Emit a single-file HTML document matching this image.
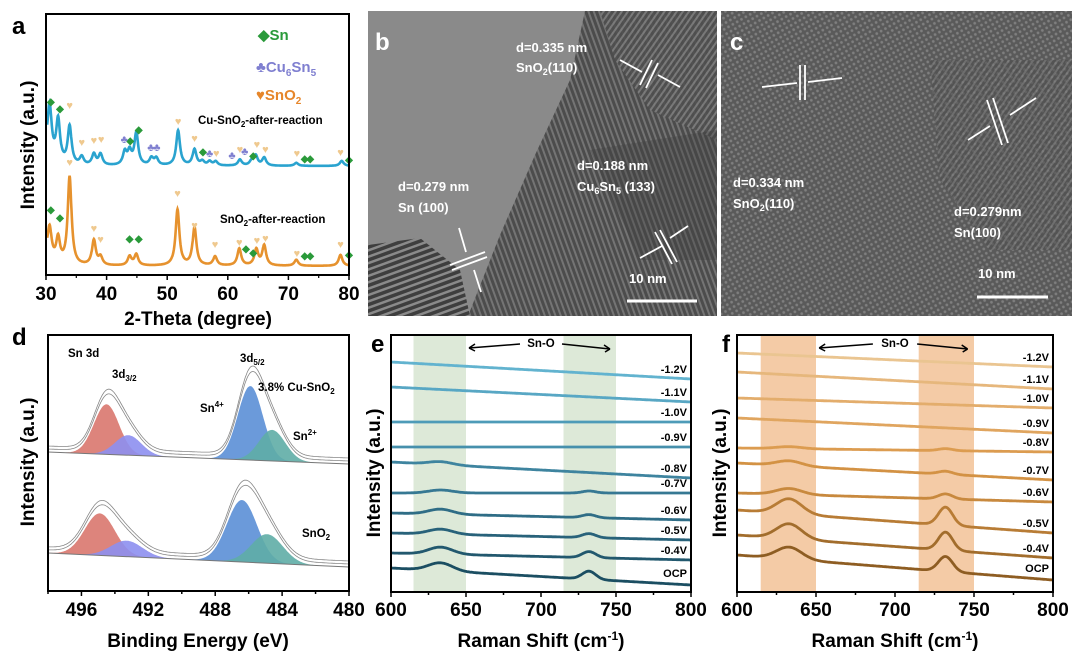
<!DOCTYPE html>
<html><head><meta charset="utf-8"><style>
html,body{margin:0;padding:0;background:#fff;}
svg{display:block;font-family:"Liberation Sans",Arial,sans-serif;font-weight:bold;}
</style></head><body>
<svg id="fig" width="1080" height="657" viewBox="0 0 1080 657">
<defs>
<pattern id="fringeA" width="6" height="6" patternUnits="userSpaceOnUse" patternTransform="rotate(-20)"><rect width="6" height="6" fill="#3e3e3e"/><rect width="6" height="2.5" fill="#8a8a8a"/></pattern>
<pattern id="fringeB" width="5" height="5" patternUnits="userSpaceOnUse" patternTransform="rotate(70)"><rect width="5" height="5" fill="#4c4c4c"/><rect width="5" height="2" fill="#747474"/></pattern>
<pattern id="fringeC" width="5" height="5" patternUnits="userSpaceOnUse" patternTransform="rotate(60)"><rect width="5" height="5" fill="#555"/><circle cx="2.5" cy="2.5" r="1.4" fill="#8a8a8a"/></pattern>
<pattern id="fringeD" width="5" height="5" patternUnits="userSpaceOnUse" patternTransform="rotate(-55)"><rect width="5" height="5" fill="#4e4e4e"/><rect width="5" height="2" fill="#7c7c7c"/></pattern>
</defs>

<!-- TEM b -->
<g>
<rect x="368" y="11" width="349" height="305" fill="#8a8a8a"/>
<polygon points="585,11 717,11 717,316 468,316 500,235 535,155 570,80" fill="url(#fringeB)"/>
<polygon points="600,11 717,11 717,140 650,110 615,60" fill="url(#fringeD)" opacity="0.9"/>
<polygon points="590,150 717,130 717,260 640,260" fill="#404040" opacity="0.35"/>
<polygon points="368,245 420,238 460,270 470,316 368,316" fill="url(#fringeA)"/>
<text x="375" y="50" font-size="24" fill="#fff">b</text>
<text x="516" y="52" font-size="13" fill="#fff">d=0.335 nm</text>
<text x="516" y="72" font-size="13" fill="#fff">SnO<tspan font-size="9" dy="3">2</tspan><tspan dy="-3">(110)</tspan></text>
<text x="398" y="191" font-size="13" fill="#fff">d=0.279 nm</text>
<text x="398" y="212" font-size="13" fill="#fff">Sn (100)</text>
<text x="577" y="170" font-size="13" fill="#fff">d=0.188 nm</text>
<text x="577" y="191" font-size="13" fill="#fff">Cu<tspan font-size="9" dy="3">6</tspan><tspan dy="-3">Sn</tspan><tspan font-size="9" dy="3">5</tspan><tspan dy="-3"> (133)</tspan></text>
<g stroke="#fff" stroke-width="1.8" fill="none">
<line x1="640" y1="85" x2="652" y2="60"/><line x1="646" y1="88" x2="658" y2="63"/>
<line x1="620" y1="60" x2="642" y2="72"/><line x1="680" y1="87" x2="658" y2="75"/>
<line x1="450" y1="265" x2="485" y2="252"/><line x1="452" y1="270" x2="487" y2="257"/>
<line x1="459" y1="228" x2="466" y2="252"/><line x1="481" y1="292" x2="474" y2="270"/>
<line x1="655" y1="232" x2="672" y2="264"/><line x1="660" y1="230" x2="677" y2="262"/>
<line x1="640" y1="258" x2="662" y2="246"/><line x1="688" y1="226" x2="670" y2="238"/>
<line x1="627" y1="301" x2="697" y2="301" stroke-width="3"/>
</g>
<text x="629" y="283" font-size="13" fill="#fff">10 nm</text>
</g>

<!-- TEM c -->
<g>
<rect x="721" y="11" width="351" height="305" fill="url(#fringeC)"/>
<rect x="721" y="11" width="351" height="305" fill="#666" opacity="0.3"/>
<polygon points="930,60 1072,60 1072,250 990,250 940,180" fill="url(#fringeD)" opacity="0.6"/>
<text x="730" y="50" font-size="24" fill="#fff">c</text>
<text x="733" y="187" font-size="13" fill="#fff">d=0.334 nm</text>
<text x="733" y="208" font-size="13" fill="#fff">SnO<tspan font-size="9" dy="3">2</tspan><tspan dy="-3">(110)</tspan></text>
<text x="954" y="216" font-size="13" fill="#fff">d=0.279nm</text>
<text x="954" y="237" font-size="13" fill="#fff">Sn(100)</text>
<g stroke="#fff" stroke-width="1.8" fill="none">
<line x1="800" y1="65" x2="800" y2="100"/><line x1="805" y1="65" x2="805" y2="100"/>
<line x1="762" y1="87" x2="797" y2="83"/><line x1="842" y1="78" x2="808" y2="82"/>
<line x1="987" y1="100" x2="1002" y2="145"/><line x1="993" y1="98" x2="1008" y2="143"/>
<line x1="968" y1="140" x2="990" y2="126"/><line x1="1036" y1="98" x2="1010" y2="115"/>
<line x1="977" y1="297" x2="1048" y2="297" stroke-width="3"/>
</g>
<text x="978" y="278" font-size="13" fill="#fff">10 nm</text>
</g>

<g id="charts"></g>
</svg>
<script>
// ---------- Panel a (XRD) data ----------
const xrdCuPeaks = [30.6,32.0,33.9,35.9,37.9,39.0,43.0,43.8,44.9,47.4,48.2,51.8,54.5,55.8,57.0,58.0,62.0,63.9,64.6,66.0,71.3,78.8];
const xrdCuHeights = [50,42,38,8,11,11,13,13,32,7,7,35,16,4,4,4,6,4,10,8,3,5];
const xrdSnPeaks = [30.6,32.0,33.9,37.9,39.0,43.8,44.9,51.7,54.5,57.9,61.9,64.7,66.0,71.3,78.6];
const xrdSnHeights = [30,24,88,25,8,9,11,56,38,9,17,16,20,6,11];
const markSn = [[30.8,105],[32.3,112],[43.9,144],[45.3,133],[55.9,155],[64.2,159],[72.7,162],[73.6,162],[80,163],[30.8,213],[32.3,221],[43.8,242],[45.3,242],[63.0,252],[64.2,256],[72.7,259],[73.6,259],[80,258]];
const markCu = [[42.9,143],[47.3,151],[48.3,151],[57.0,157],[60.7,159],[62.8,155]];
const markO = [[33.9,109],[35.9,146],[37.9,144],[39.1,143],[51.8,125],[54.5,142],[58.1,157],[62.0,153],[64.8,148],[66.2,153],[71.4,157],[78.6,156],[33.9,166],[37.9,232],[39.0,243],[51.7,197],[54.5,229],[57.9,248],[61.9,246],[64.8,244],[66.2,242],[71.4,257],[78.6,248]];
const xTicksA = [30,40,50,60,70,80];

// ---------- Panel d (XPS) data ----------
const xpsTicks = [496,492,488,484,480];
const xpsCuCenters = [494.5,493.2,485.9,484.6];
const xpsCuHeights = [50,20,74,31];
const xpsSnCenters = [494.9,493.3,486.4,484.9];
const xpsSnHeights = [42,16,62,29];
const xpsColors = ["#d9776e","#8d8ff0","#5b8fd6","#5fada6"];

// ---------- Panels e/f (Raman) data ----------
const ramanTicks = [600,650,700,750,800];
const ramanLabels = ["-1.2V","-1.1V","-1.0V","-0.9V","-0.8V","-0.7V","-0.6V","-0.5V","-0.4V","OCP"];
const eStart = [362,387,422,447,462,493,513,533,553,568];
const eEnd = [379,402,422,447,478,493,520,540,560,585];
const ePeak633 = [0,0,0,0,3,3,5,5,7,8];
const ePeak732 = [0,0,0,0,0,2,3,4,6,8];
const eColors = ["#62b3cf","#58a7c4","#4e9bb8","#4690ac","#3e849f","#367893","#2f6d86","#28627a","#22586e","#1b4e62"];
const fStart = [353,372,398,418,448,463,493,510,535,555];
const fEnd = [367,389,408,433,452,480,502,533,558,580];
const fPeak633 = [0,0,0,0,2,5,6,15,15,12];
const fPeak732 = [0,0,0,0,2,3,5,18,18,15];
const fColors = ["#eac591","#e6b77c","#e3ad6c","#e0a55f","#dc9c50","#d39244","#c8893e","#b87c35","#a26d2c","#8e5d22"];

const NS="http://www.w3.org/2000/svg";
const root=document.getElementById('charts');
function mk(tag,attrs,parent,txt){const e=document.createElementNS(NS,tag);for(const k in attrs)e.setAttribute(k,attrs[k]);if(txt!==undefined)e.textContent=txt;(parent||root).appendChild(e);return e;}
function lor(x,c,w){return 1/(1+((x-c)/w)**2);}
function gau(x,c,s){return Math.exp(-0.5*((x-c)/s)**2);}

// ===== Panel a =====
(function(){
const x0=46,x1=349,y0=14,y1=275;
const sx=v=>x0+(v-30)/(50)*(x1-x0);
const g=mk('g',{});


function curve(peaks,hts,base,start,color,name){
 let d='';
 for(let v=30.2;v<=80;v+=0.05){
  let y=base-start*Math.exp(-(v-30)/1.2);
  for(let i=0;i<peaks.length;i++)y-=hts[i]*lor(v,peaks[i],0.38);
  d+=(d?'L':'M')+sx(v).toFixed(1)+','+y.toFixed(1);
 }
 const p=mk('path',{d:d,fill:'none',stroke:color,'stroke-width':2.6},g);
 
 
}
curve(xrdCuPeaks,xrdCuHeights,166,18,'#2aa3cf','xrd-cu-sno2-curve');
curve(xrdSnPeaks,xrdSnHeights,266,14,'#e6922e','xrd-sno2-curve');
markSn.forEach(m=>{const t=mk('text',{x:sx(m[0]),y:m[1],'font-size':10,fill:'#2a9a3a','text-anchor':'middle'},g,'◆');});
markCu.forEach(m=>{const t=mk('text',{x:sx(m[0]),y:m[1],'font-size':11,fill:'#8080d0','text-anchor':'middle'},g,'♣');});
markO.forEach(m=>{const t=mk('text',{x:sx(m[0]),y:m[1],'font-size':11,fill:'#efc98f','text-anchor':'middle'},g,'♥');});
const box=mk('rect',{x:x0,y:y0,width:x1-x0,height:y1-y0,fill:'none',stroke:'#000','stroke-width':2},g);

xTicksA.forEach(v=>{mk('line',{x1:sx(v),x2:sx(v),y1:y1,y2:y1+5,stroke:'#000','stroke-width':1.5},g);
 if(v<80)mk('line',{x1:sx(v+5),x2:sx(v+5),y1:y1,y2:y1+3,stroke:'#000','stroke-width':1.2},g);
 const t=mk('text',{x:sx(v),y:300,'font-size':19,'text-anchor':'middle'},g,String(v));});
let t=mk('text',{x:198,y:325,'font-size':19,'text-anchor':'middle'},g,'2-Theta (degree)');
t=mk('text',{x:0,y:0,'font-size':19,'text-anchor':'middle',transform:'translate(34,145) rotate(-90)'},g,'Intensity (a.u.)');
t=mk('text',{x:12,y:34,'font-size':24},g,'a');
const lg=mk('g',{},g);
let l=mk('text',{x:258,y:40,'font-size':15,fill:'#2a9a3a'},lg,'◆Sn');
l=mk('text',{x:256,y:72,'font-size':15,fill:'#7f7fd0'},lg);l.innerHTML='♣Cu<tspan font-size="10" dy="4">6</tspan><tspan dy="-4">Sn</tspan><tspan font-size="10" dy="4">5</tspan>';
l=mk('text',{x:256,y:100,'font-size':15,fill:'#e6862a'},lg);l.innerHTML='♥SnO<tspan font-size="10" dy="4">2</tspan>';
t=mk('text',{x:198,y:124,'font-size':11.5},g);t.innerHTML='Cu-SnO<tspan font-size="8" dy="3">2</tspan><tspan dy="-3">-after-reaction</tspan>';
t=mk('text',{x:220,y:223,'font-size':11.5},g);t.innerHTML='SnO<tspan font-size="8" dy="3">2</tspan><tspan dy="-3">-after-reaction</tspan>';
})();

// ===== Panel d =====
(function(){
const x0=48,x1=349,y0=335,y1=591;
const sx=v=>x0+(498-v)/18*(x1-x0);
const g=mk('g',{});


function stack(cs,hs,bl,br,sig,name){
 const base=v=>bl+(br-bl)*(498-v)/18;
 const envPts=[];
 for(let v=498;v>=480;v-=0.05){let y=base(v);cs.forEach((c,i)=>{y-=hs[i]*gau(v,c,sig*(i%2?1.05:1));});envPts.push([sx(v),y]);}
 cs.forEach((c,i)=>{
  const pts=[];
  for(let v=Math.min(498,c+4);v>=Math.max(480,c-4);v-=0.05)pts.push([sx(v),base(v)-hs[i]*gau(v,c,sig*(i%2?1.05:1))]);
  let d='M'+pts.map(p=>p[0].toFixed(1)+','+p[1].toFixed(1)).join('L');
  const b2=pts.slice().reverse().map(p=>p[0].toFixed(1)+','+base(498-(p[0]-x0)/(x1-x0)*18).toFixed(1));
  d+='L'+b2.join('L')+'Z';
  const p=mk('path',{d:d,fill:xpsColors[i],opacity:0.9},g);
  
 });
 [-3,-6].forEach(off=>{
  const d='M'+envPts.map(p=>p[0].toFixed(1)+','+(p[1]+off*(1+0.2*Math.max(0,(base(498-(p[0]-x0)/(x1-x0)*18)-p[1])/20))).toFixed(1)).join('L');
  const p=mk('path',{d:d,fill:'none',stroke:'#888','stroke-width':0.8},g);
  
 });
 mk('line',{x1:x0,y1:bl,x2:x1,y2:br,stroke:'#777','stroke-width':1},g);
}
stack(xpsCuCenters,xpsCuHeights,452,464,0.75,'xps-cu-sno2');
stack(xpsSnCenters,xpsSnHeights,553,567,0.9,'xps-sno2');
const box=mk('rect',{x:x0,y:y0,width:x1-x0,height:y1-y0,fill:'none',stroke:'#000','stroke-width':2},g);

for(let v=498;v>=480;v-=2){mk('line',{x1:sx(v),x2:sx(v),y1:y1,y2:y1+(v%4===0?5:3),stroke:'#000','stroke-width':1.5},g);}
xpsTicks.forEach(v=>{const t=mk('text',{x:sx(v),y:616,'font-size':19,'text-anchor':'middle'},g,String(v));});
let t=mk('text',{x:198,y:647,'font-size':19,'text-anchor':'middle'},g,'Binding Energy (eV)');
t=mk('text',{x:0,y:0,'font-size':19,'text-anchor':'middle',transform:'translate(34,462) rotate(-90)'},g,'Intensity (a.u.)');
t=mk('text',{x:12,y:345,'font-size':24},g,'d');
const ann=[[68,357,'Sn 3d'],[112,378,'3d<tspan font-size="8" dy="3">3/2</tspan>'],[240,362,'3d<tspan font-size="8" dy="3">5/2</tspan>'],[258,391,'3.8% Cu-SnO<tspan font-size="8" dy="3">2</tspan>'],[200,412,'Sn<tspan font-size="8" dy="-5">4+</tspan>'],[293,440,'Sn<tspan font-size="8" dy="-5">2+</tspan>'],[302,537,'SnO<tspan font-size="8" dy="3">2</tspan>']];
ann.forEach(a=>{const e=mk('text',{x:a[0],y:a[1],'font-size':11.5},g);e.innerHTML=a[2];});
})();

// ===== Panels e, f =====
function raman(x0,x1,starts,ends,p1,p2,colors,band,letter,lx,ylx){
const y0=335,y1=592;
const sx=v=>x0+(v-600)/200*(x1-x0);
const g=mk('g',{});


[[615,650],[715,750]].forEach(b=>{const r=mk('rect',{x:sx(b[0]),y:y0,width:sx(b[1])-sx(b[0]),height:y1-y0,fill:band},g);});
ramanLabels.forEach((lab,i)=>{
 let d='';
 for(let v=600;v<=800;v+=0.5){
  const y=starts[i]+(ends[i]-starts[i])*(v-600)/200-p1[i]*gau(v,633,8)-p2[i]*gau(v,732,4.5);
  d+=(d?'L':'M')+sx(v).toFixed(1)+','+y.toFixed(1);
 }
 const p=mk('path',{d:d,fill:'none',stroke:colors[i],'stroke-width':2.8},g);
 
 const t=mk('text',{x:x1-4,y:ends[i]-(i===9?8:6),'font-size':11,'text-anchor':'end'},g,lab);
 
});
const box=mk('rect',{x:x0,y:y0,width:x1-x0,height:y1-y0,fill:'none',stroke:'#000','stroke-width':2},g);

for(let v=600;v<=800;v+=25)mk('line',{x1:sx(v),x2:sx(v),y1:y1,y2:y1+(v%50===0?5:3),stroke:'#000','stroke-width':1.5},g);
ramanTicks.forEach(v=>{const t=mk('text',{x:sx(v),y:616,'font-size':19,'text-anchor':'middle'},g,String(v));});
const cx=(x0+x1)/2;
let t=mk('text',{x:cx,y:647,'font-size':19,'text-anchor':'middle'},g);t.innerHTML='Raman Shift (cm<tspan font-size="12" dy="-7">-1</tspan><tspan dy="7">)</tspan>';
t=mk('text',{x:0,y:0,'font-size':19,'text-anchor':'middle',transform:'translate('+ylx+',473) rotate(-90)'},g,'Intensity (a.u.)');
t=mk('text',{x:lx,y:352,'font-size':24},g,letter);
t=mk('text',{x:sx(700),y:347,'font-size':11.5,'text-anchor':'middle'},g,'Sn-O');
mk('path',{d:`M${sx(686)},344 L${sx(652)},348 M${sx(652)},348 l6,-4 M${sx(652)},348 l6,3`,stroke:'#000','stroke-width':1.5,fill:'none'},g);
mk('path',{d:`M${sx(714)},344 L${sx(746)},349 M${sx(746)},349 l-6,-4 M${sx(746)},349 l-5,3`,stroke:'#000','stroke-width':1.5,fill:'none'},g);
}
raman(391,691,eStart,eEnd,ePeak633,ePeak732,eColors,'#dde9d8','e',371,380);
raman(737,1053,fStart,fEnd,fPeak633,fPeak732,fColors,'#f4cba6','f',722,726);
</script>
</body></html>
